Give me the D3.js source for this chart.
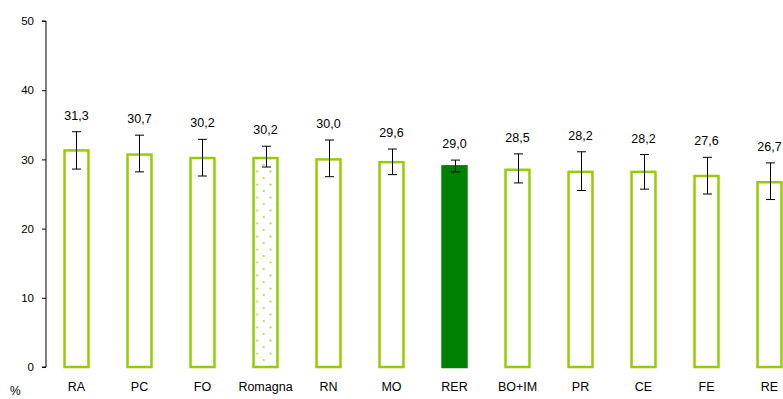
<!DOCTYPE html>
<html>
<head>
<meta charset="utf-8">
<script src="https://cdn.jsdelivr.net/npm/d3@7"></script>
<style>
  html, body { margin: 0; padding: 0; background: #fff; }
  svg { display: block; font-family: "Liberation Sans", Arial, sans-serif; }
</style>
</head>
<body>
<svg id="chart" width="783" height="399"></svg>
<script>
const categories = ["RA", "PC", "FO", "Romagna", "RN", "MO", "RER", "BO+IM", "PR", "CE", "FE", "RE"];
const values     = [31.3, 30.7, 30.2, 30.2, 30.0, 29.6, 29.0, 28.5, 28.2, 28.2, 27.6, 26.7];
const ciLow      = [28.6, 28.2, 27.6, 28.9, 27.5, 27.8, 28.2, 26.6, 25.5, 25.7, 25.0, 24.2];
const ciHigh     = [34.0, 33.5, 32.9, 31.9, 32.8, 31.5, 29.9, 30.8, 31.1, 30.7, 30.3, 29.5];
const barKinds   = ["outline", "outline", "outline", "dotted", "outline", "outline", "solid", "outline", "outline", "outline", "outline", "outline"];
const yTicks     = [0, 10, 20, 30, 40, 50];
const yUnit      = "%";

const fmt = v => d3.format(".1f")(v).replace(".", ",");
const data = categories.map((c, i) => ({ c, v: values[i], lo: ciLow[i], hi: ciHigh[i], kind: barKinds[i] }));

const svg = d3.select("#chart");
const green = "#99CC00";
const darkGreen = "#008000";

const x = d3.scaleBand().domain(categories).range([45, 801]).paddingInner(0.62).paddingOuter(0.31);
const y = d3.scaleLinear().domain([0, 50]).range([367, 21]);

// dotted pattern
const defs = svg.append("defs");
const pat = defs.append("pattern").attr("id", "dots").attr("patternUnits", "userSpaceOnUse")
  .attr("width", 13.4).attr("height", 13).attr("x", 0).attr("y", 0);
pat.append("rect").attr("width", 13.4).attr("height", 13).attr("fill", "#fff");
pat.append("circle").attr("cx", 2.5).attr("cy", 2.5).attr("r", 1).attr("fill", "#a8d42a");
pat.append("circle").attr("cx", 9.2).attr("cy", 9).attr("r", 1).attr("fill", "#a8d42a");

// axis
const yAxis = d3.axisLeft(y).tickValues(yTicks).tickSize(4).tickPadding(8).tickFormat(d3.format("d"));
const gy = svg.append("g").attr("transform", "translate(46,0)").call(yAxis);
gy.select(".domain").attr("stroke", "#000").attr("d", `M-4,${y(50)}H0V${y(0)}H-4`);
gy.selectAll(".tick line").attr("stroke", "#000");
gy.selectAll(".tick text").attr("font-size", 11.5).attr("fill", "#000")
  .attr("font-family", "Liberation Sans, Arial, sans-serif");

// bars
const bw = x.bandwidth();
svg.append("g").selectAll("rect").data(data).join("rect")
  .attr("x", d => x(d.c))
  .attr("y", d => y(d.v))
  .attr("width", bw)
  .attr("height", d => y(0) - y(d.v))
  .attr("fill", d => d.kind === "solid" ? darkGreen : (d.kind === "dotted" ? "url(#dots)" : "#fff"))
  .attr("stroke", d => d.kind === "solid" ? darkGreen : green)
  .attr("stroke-width", 2.5);

// error bars
const eb = svg.append("g").attr("stroke", "#000").attr("stroke-width", 1).attr("fill", "none");
data.forEach(d => {
  const cx = Math.round(x(d.c) + bw / 2) + 0.5;
  eb.append("line").attr("x1", cx).attr("x2", cx).attr("y1", y(d.hi)).attr("y2", y(d.lo));
  eb.append("line").attr("x1", cx - 4.5).attr("x2", cx + 4.5).attr("y1", y(d.hi)).attr("y2", y(d.hi));
  eb.append("line").attr("x1", cx - 4.5).attr("x2", cx + 4.5).attr("y1", y(d.lo)).attr("y2", y(d.lo));
});

// value labels
svg.append("g").selectAll("text").data(data).join("text")
  .attr("x", d => x(d.c) + bw / 2)
  .attr("y", d => y(d.hi) - 12)
  .attr("text-anchor", "middle")
  .attr("font-size", 12.5)
  .attr("fill", "#000")
  .text(d => fmt(d.v));

// category labels
svg.append("g").selectAll("text").data(categories).join("text")
  .attr("x", d => x(d) + bw / 2)
  .attr("y", 391)
  .attr("text-anchor", "middle")
  .attr("font-size", 12.5)
  .attr("fill", "#000")
  .text(d => d);

// unit label
svg.append("text").attr("x", 10).attr("y", 395).attr("font-size", 12).attr("fill", "#000").text(yUnit);
</script>
</body>
</html>
